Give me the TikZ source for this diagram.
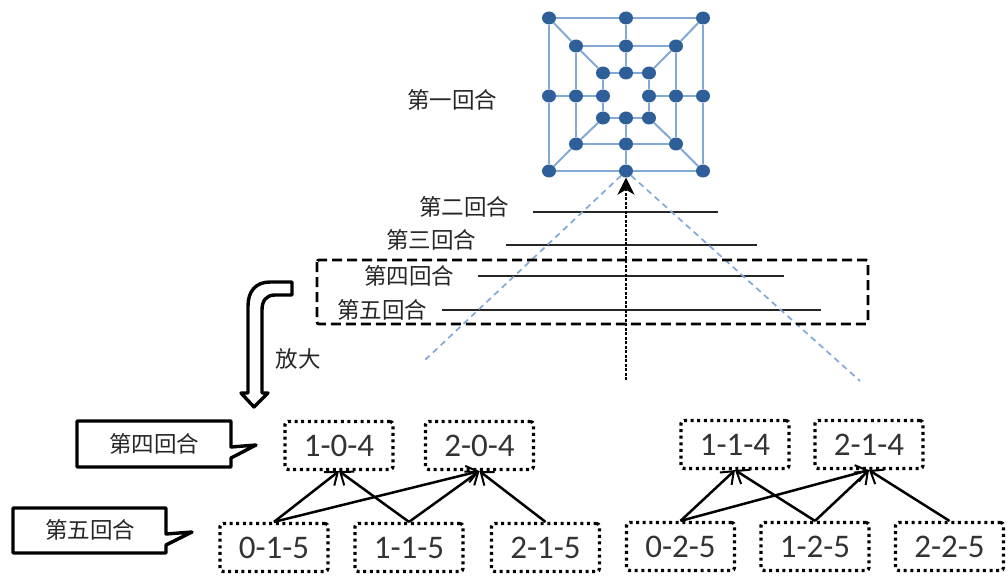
\documentclass[tikz,border=0pt]{standalone}
\usepackage{fontspec}
\setmainfont{Carlito}
\newfontfamily\cjk{Noto Sans CJK SC}
\usetikzlibrary{arrows.meta,shapes.geometric}
\definecolor{gridline}{HTML}{82A8D6}
\definecolor{gridnode}{HTML}{2F5F99}
\begin{document}
\begin{tikzpicture}[x=1pt,y=-1pt,
    round label/.style={font=\cjk\fontsize{22.5}{26}\selectfont,inner sep=0pt,text=black!85},
    state box/.style={draw,line width=3.2pt,dash pattern=on 3pt off 3.6pt,rounded corners=3pt,
      minimum width=108pt,minimum height=48pt,inner sep=0pt,text=black!80,font=\fontsize{33}{38}\selectfont},
    level line/.style={line width=1.4pt,black!85},
    fan line/.style={gridline,line width=1.7pt,dash pattern=on 6pt off 4.5pt},
    move/.style={line width=2.5pt,-{Straight Barb[length=11pt,width=17pt,line width=2pt]}},
    panel line/.style={line width=3.4pt,line join=round}]

        \useasboundingbox (0,0) rectangle (1008,575);

        \begin{scope}[every node/.style={ellipse,fill=gridnode,inner sep=0pt,minimum width=14pt,minimum height=13pt}]
          \node (a1) at (549,18)  {};
          \node (a2) at (626,18)  {};
          \node (a3) at (703,18)  {};
          \node (a4) at (549,96)  {};
          \node (a5) at (703,96)  {};
          \node (a6) at (549,171) {};
          \node (a7) at (626,171) {};
          \node (a8) at (703,171) {};
          \node (b1) at (576,46)  {};
          \node (b2) at (626,46)  {};
          \node (b3) at (676,46)  {};
          \node (b4) at (576,96)  {};
          \node (b5) at (676,96)  {};
          \node (b6) at (576,144) {};
          \node (b7) at (626,144) {};
          \node (b8) at (676,144) {};
          \node (c1) at (603,73)  {};
          \node (c2) at (626,73)  {};
          \node (c3) at (649,73)  {};
          \node (c4) at (603,96)  {};
          \node (c5) at (649,96)  {};
          \node (c6) at (603,118) {};
          \node (c7) at (626,118) {};
          \node (c8) at (649,118) {};
        \end{scope}

        \begin{scope}[every path/.style={draw=gridline,line width=2pt}]
          \path (a1) -- (a2) -- (a3) -- (a5) -- (a8) -- (a7) -- (a6) -- (a4) -- (a1);
          \path (b1) -- (b2) -- (b3) -- (b5) -- (b8) -- (b7) -- (b6) -- (b4) -- (b1);
          \path (c1) -- (c2) -- (c3) -- (c5) -- (c8) -- (c7) -- (c6) -- (c4) -- (c1);
          \path (a1) -- (b1) -- (c1);
          \path (a2) -- (b2) -- (c2);
          \path (a3) -- (b3) -- (c3);
          \path (a4) -- (b4) -- (c4);
          \path (a5) -- (b5) -- (c5);
          \path (a6) -- (b6) -- (c6);
          \path (a7) -- (b7) -- (c7);
          \path (a8) -- (b8) -- (c8);
        \end{scope}

        \begin{scope}[every node/.style={round label}]
          \node (r1) at (452,100) {第一回合};
          \node (r2) at (464,207) {第二回合};
          \node (r3) at (431,240) {第三回合};
          \node (r4) at (409,276) {第四回合};
          \node (r5) at (382,310) {第五回合};
          \node (zoom) at (298,359) {放大};
          \node (r4b) at (154,444) {第四回合};
          \node (r5b) at (90,530)  {第五回合};
        \end{scope}

        \coordinate (l2a) at (533,212);
        \coordinate (l2b) at (718,212);
        \coordinate (l3a) at (506,245);
        \coordinate (l3b) at (757,245);
        \coordinate (l4a) at (478,276);
        \coordinate (l4b) at (784,276);
        \coordinate (l5a) at (442,310);
        \coordinate (l5b) at (821,310);
        \coordinate (axis) at (626,380);
        \coordinate (fanl) at (425,360);
        \coordinate (fanr) at (860,381);

        \draw[level line] (l2a) -- (l2b);
        \draw[level line] (l3a) -- (l3b);
        \draw[level line] (l4a) -- (l4b);
        \draw[level line] (l5a) -- (l5b);
        \draw[fan line] (a7) -- (fanl);
        \draw[fan line] (a7) -- (fanr);
        \draw[line width=1.4pt,dash pattern=on 3pt off 1.5pt,-{Stealth[length=17pt,width=17pt,inset=5pt]}] (axis) -- (a7.south);

        \draw[line width=2.8pt,dash pattern=on 10pt off 5pt,rounded corners=2pt] (317,260) rectangle (868,324);

        \draw[panel line,fill=white] (292,282) -- (292,295) -- (275,295)
          .. controls (266,295) and (262,301) .. (262,310) -- (262,393) -- (268,393)
          -- (254,407) -- (241,393) -- (248,393) -- (248,306)
          .. controls (248,291) and (256,282) .. (270,282) -- cycle;

        \draw[panel line] (77,421) -- (231,421) -- (231,447) -- (256,445) -- (231,458)
          -- (231,467) -- (77,467) -- cycle;
        \draw[panel line] (13,508) -- (166,508) -- (166,534) -- (192,532) -- (166,545)
          -- (166,553) -- (13,553) -- cycle;

        \begin{scope}[every node/.style={state box}]
          \node (n104) at (339,445.5) {1-0-4};
          \node (n204) at (479.5,445.5) {2-0-4};
          \node (n015) at (274,547.5) {0-1-5};
          \node (n115) at (409,547.5) {1-1-5};
          \node (n215) at (545.5,547.5) {2-1-5};
          \node (n114) at (735,444.5) {1-1-4};
          \node (n214) at (869,444.5) {2-1-4};
          \node (n025) at (680.5,546.5) {0-2-5};
          \node (n125) at (815,546.5) {1-2-5};
          \node (n225) at (949.5,546.5) {2-2-5};
        \end{scope}

        \begin{scope}[every edge/.style={draw,move}]
          \path (n015.north) edge (n104.south);
          \path (n015.north) edge (n204.south);
          \path (n115.north) edge (n104.south);
          \path (n115.north) edge (n204.south);
          \path (n215.north) edge (n204.south);
          \path (n025.north) edge (n114.south);
          \path (n025.north) edge (n214.south);
          \path (n125.north) edge (n114.south);
          \path (n125.north) edge (n214.south);
          \path (n225.north) edge (n214.south);
        \end{scope}

      \end{tikzpicture}
\end{document}
